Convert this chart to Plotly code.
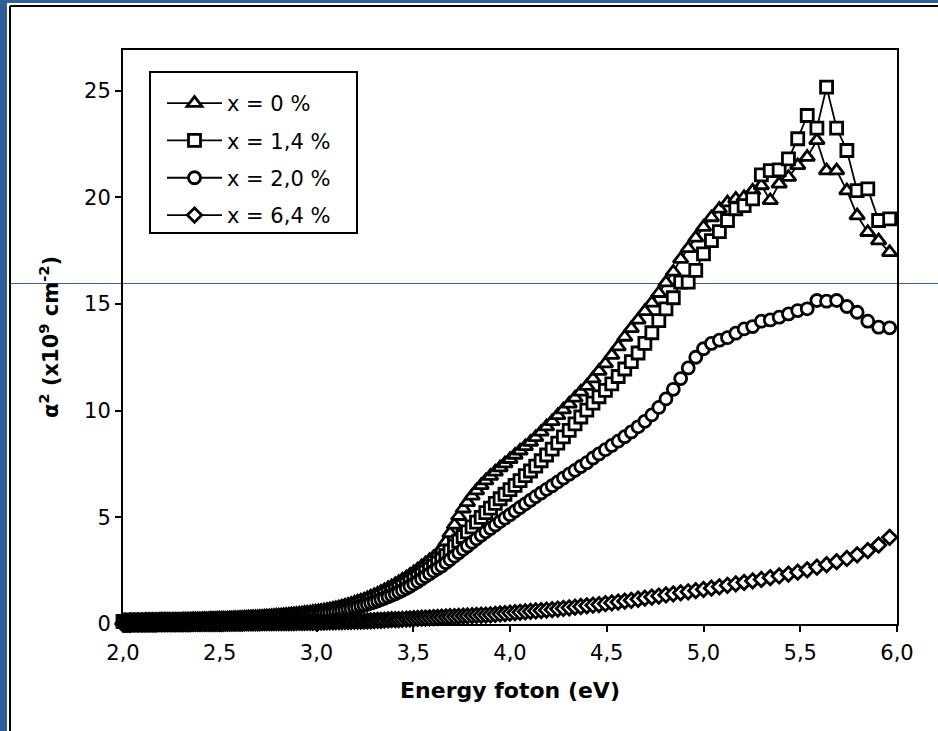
import plotly.graph_objects as go

# Photon energy grid (eV), shared by all four samples
energy_ev = [
    2.000, 2.006, 2.013, 2.020, 2.026, 2.033, 2.039, 2.046, 2.053, 2.060,
    2.067, 2.074, 2.081, 2.088, 2.095, 2.102, 2.109, 2.116, 2.123, 2.131,
    2.138, 2.145, 2.153, 2.160, 2.168, 2.175, 2.183, 2.191, 2.199, 2.206,
    2.214, 2.222, 2.230, 2.238, 2.246, 2.255, 2.263, 2.271, 2.279, 2.288,
    2.296, 2.305, 2.313, 2.322, 2.331, 2.340, 2.348, 2.357, 2.366, 2.375,
    2.385, 2.394, 2.403, 2.412, 2.422, 2.431, 2.441, 2.451, 2.460, 2.470,
    2.480, 2.490, 2.500, 2.510, 2.520, 2.531, 2.541, 2.551, 2.562, 2.573,
    2.583, 2.594, 2.605, 2.616, 2.627, 2.638, 2.650, 2.661, 2.672, 2.684,
    2.696, 2.707, 2.719, 2.731, 2.743, 2.756, 2.768, 2.780, 2.793, 2.805,
    2.818, 2.831, 2.844, 2.857, 2.870, 2.884, 2.897, 2.911, 2.925, 2.938,
    2.952, 2.967, 2.981, 2.995, 3.010, 3.024, 3.039, 3.054, 3.069, 3.085,
    3.100, 3.116, 3.131, 3.147, 3.163, 3.179, 3.196, 3.212, 3.229, 3.246,
    3.263, 3.280, 3.298, 3.316, 3.333, 3.351, 3.370, 3.388, 3.407, 3.425,
    3.444, 3.464, 3.483, 3.503, 3.523, 3.543, 3.563, 3.584, 3.605, 3.626,
    3.647, 3.669, 3.690, 3.713, 3.735, 3.758, 3.780, 3.804, 3.827, 3.851,
    3.875, 3.899, 3.924, 3.949, 3.974, 4.000, 4.026, 4.052, 4.079, 4.106,
    4.133, 4.161, 4.189, 4.218, 4.247, 4.276, 4.306, 4.336, 4.366, 4.397,
    4.429, 4.460, 4.493, 4.526, 4.559, 4.593, 4.627, 4.662, 4.697, 4.733,
    4.769, 4.806, 4.844, 4.882, 4.921, 4.960, 5.000, 5.041, 5.082, 5.124,
    5.167, 5.210, 5.254, 5.299, 5.345, 5.391, 5.439, 5.487, 5.536, 5.586,
    5.636, 5.688, 5.741, 5.794, 5.849, 5.905, 5.962,
]

# alpha^2 (x10^9 cm^-2) for each doping level
alpha2_x0 = [
    0.15, 0.15, 0.15, 0.15, 0.15, 0.15, 0.16, 0.16, 0.16, 0.16,
    0.16, 0.16, 0.16, 0.16, 0.16, 0.16, 0.16, 0.17, 0.17, 0.17,
    0.17, 0.17, 0.17, 0.17, 0.17, 0.17, 0.17, 0.18, 0.18, 0.18,
    0.18, 0.18, 0.18, 0.18, 0.18, 0.19, 0.19, 0.19, 0.19, 0.19,
    0.19, 0.19, 0.20, 0.20, 0.20, 0.20, 0.20, 0.21, 0.21, 0.21,
    0.21, 0.21, 0.21, 0.22, 0.22, 0.22, 0.22, 0.23, 0.23, 0.23,
    0.23, 0.24, 0.24, 0.24, 0.25, 0.25, 0.25, 0.26, 0.26, 0.27,
    0.27, 0.27, 0.28, 0.28, 0.29, 0.29, 0.30, 0.30, 0.31, 0.31,
    0.32, 0.33, 0.33, 0.34, 0.35, 0.35, 0.36, 0.37, 0.38, 0.39,
    0.40, 0.41, 0.42, 0.43, 0.44, 0.45, 0.47, 0.48, 0.49, 0.51,
    0.52, 0.54, 0.56, 0.57, 0.59, 0.61, 0.63, 0.66, 0.68, 0.71,
    0.74, 0.77, 0.81, 0.85, 0.89, 0.94, 0.99, 1.04, 1.09, 1.14,
    1.20, 1.27, 1.34, 1.42, 1.50, 1.58, 1.67, 1.76, 1.86, 1.96,
    2.07, 2.18, 2.30, 2.42, 2.55, 2.69, 2.83, 2.98, 3.13, 3.30,
    3.50, 3.85, 4.25, 4.65, 5.05, 5.40, 5.70, 6.00, 6.25, 6.50,
    6.72, 6.93, 7.13, 7.33, 7.52, 7.72, 7.92, 8.12, 8.32, 8.53,
    8.75, 9.00, 9.25, 9.50, 9.78, 10.05, 10.32, 10.60, 10.88, 11.15,
    11.50, 11.85, 12.20, 12.60, 13.00, 13.45, 13.85, 14.25, 14.65, 15.05,
    15.50, 16.00, 16.50, 17.10, 17.60, 18.10, 18.60, 19.05, 19.45, 19.75,
    19.92, 20.00, 20.30, 20.55, 19.85, 20.63, 20.94, 21.49, 21.88, 22.66,
    21.25, 21.25, 20.31, 19.14, 18.36, 17.97, 17.42,
]

alpha2_x14 = [
    0.12, 0.12, 0.12, 0.12, 0.12, 0.12, 0.12, 0.12, 0.13, 0.13,
    0.13, 0.13, 0.13, 0.13, 0.13, 0.13, 0.13, 0.13, 0.13, 0.14,
    0.14, 0.14, 0.14, 0.14, 0.14, 0.14, 0.14, 0.14, 0.15, 0.15,
    0.15, 0.15, 0.15, 0.15, 0.15, 0.15, 0.16, 0.16, 0.16, 0.16,
    0.16, 0.16, 0.16, 0.17, 0.17, 0.17, 0.17, 0.17, 0.18, 0.18,
    0.18, 0.18, 0.18, 0.19, 0.19, 0.19, 0.19, 0.20, 0.20, 0.20,
    0.20, 0.21, 0.21, 0.21, 0.22, 0.22, 0.22, 0.23, 0.23, 0.23,
    0.24, 0.24, 0.25, 0.25, 0.25, 0.26, 0.26, 0.27, 0.27, 0.28,
    0.28, 0.29, 0.29, 0.30, 0.31, 0.31, 0.32, 0.33, 0.33, 0.34,
    0.35, 0.36, 0.37, 0.38, 0.39, 0.40, 0.41, 0.42, 0.43, 0.45,
    0.46, 0.48, 0.49, 0.51, 0.53, 0.55, 0.57, 0.59, 0.61, 0.64,
    0.66, 0.69, 0.72, 0.75, 0.79, 0.82, 0.86, 0.90, 0.95, 0.99,
    1.04, 1.10, 1.15, 1.21, 1.28, 1.35, 1.42, 1.50, 1.58, 1.67,
    1.76, 1.86, 1.96, 2.07, 2.18, 2.30, 2.43, 2.56, 2.70, 2.85,
    3.00, 3.20, 3.42, 3.65, 3.88, 4.10, 4.32, 4.55, 4.77, 5.00,
    5.22, 5.43, 5.65, 5.87, 6.08, 6.30, 6.50, 6.72, 6.95, 7.17,
    7.40, 7.65, 7.92, 8.20, 8.48, 8.77, 9.07, 9.38, 9.70, 10.02,
    10.35, 10.65, 10.95, 11.25, 11.60, 11.95, 12.30, 12.70, 13.15, 13.65,
    14.22, 14.77, 15.29, 16.02, 16.02, 16.57, 17.35, 17.97, 18.39, 18.91,
    19.46, 19.61, 19.92, 21.05, 21.25, 21.28, 21.80, 22.74, 23.83, 23.24,
    25.16, 23.24, 22.19, 20.31, 20.39, 18.91, 18.99,
]

alpha2_x20 = [
    0.08, 0.08, 0.08, 0.08, 0.08, 0.08, 0.08, 0.08, 0.08, 0.09,
    0.09, 0.09, 0.09, 0.09, 0.09, 0.09, 0.09, 0.09, 0.09, 0.09,
    0.09, 0.10, 0.10, 0.10, 0.10, 0.10, 0.10, 0.10, 0.10, 0.10,
    0.10, 0.10, 0.11, 0.11, 0.11, 0.11, 0.11, 0.11, 0.11, 0.11,
    0.12, 0.12, 0.12, 0.12, 0.12, 0.12, 0.12, 0.13, 0.13, 0.13,
    0.13, 0.13, 0.13, 0.14, 0.14, 0.14, 0.14, 0.14, 0.15, 0.15,
    0.15, 0.15, 0.16, 0.16, 0.16, 0.16, 0.17, 0.17, 0.17, 0.18,
    0.18, 0.18, 0.19, 0.19, 0.20, 0.20, 0.20, 0.21, 0.21, 0.22,
    0.22, 0.23, 0.23, 0.24, 0.25, 0.25, 0.26, 0.27, 0.27, 0.28,
    0.29, 0.30, 0.31, 0.32, 0.33, 0.34, 0.35, 0.36, 0.37, 0.38,
    0.39, 0.41, 0.42, 0.44, 0.45, 0.47, 0.49, 0.51, 0.53, 0.55,
    0.58, 0.60, 0.63, 0.66, 0.69, 0.72, 0.76, 0.80, 0.84, 0.88,
    0.93, 0.98, 1.03, 1.09, 1.15, 1.21, 1.28, 1.35, 1.42, 1.50,
    1.58, 1.67, 1.77, 1.88, 1.99, 2.11, 2.23, 2.35, 2.48, 2.60,
    2.72, 2.87, 3.02, 3.18, 3.34, 3.50, 3.66, 3.83, 3.99, 4.16,
    4.32, 4.48, 4.64, 4.80, 4.96, 5.12, 5.29, 5.46, 5.63, 5.80,
    5.97, 6.14, 6.31, 6.48, 6.66, 6.84, 7.02, 7.20, 7.38, 7.56,
    7.78, 7.97, 8.17, 8.37, 8.57, 8.78, 9.00, 9.24, 9.50, 9.80,
    10.15, 10.55, 11.00, 11.50, 12.00, 12.50, 12.90, 13.15, 13.30, 13.42,
    13.63, 13.83, 13.94, 14.19, 14.25, 14.38, 14.53, 14.69, 14.77, 15.16,
    15.13, 15.16, 14.88, 14.61, 14.19, 13.91, 13.88,
]

alpha2_x64 = [
    0.00, 0.00, 0.00, 0.00, 0.00, 0.00, 0.00, 0.01, 0.01, 0.01,
    0.01, 0.01, 0.01, 0.01, 0.01, 0.01, 0.01, 0.01, 0.01, 0.01,
    0.01, 0.01, 0.01, 0.01, 0.01, 0.01, 0.02, 0.02, 0.02, 0.02,
    0.02, 0.02, 0.02, 0.02, 0.02, 0.02, 0.02, 0.02, 0.02, 0.02,
    0.02, 0.02, 0.02, 0.02, 0.02, 0.02, 0.02, 0.03, 0.03, 0.03,
    0.03, 0.03, 0.03, 0.03, 0.03, 0.03, 0.03, 0.03, 0.03, 0.03,
    0.03, 0.03, 0.03, 0.03, 0.03, 0.04, 0.04, 0.04, 0.04, 0.04,
    0.04, 0.04, 0.04, 0.04, 0.05, 0.05, 0.05, 0.05, 0.05, 0.05,
    0.05, 0.05, 0.06, 0.06, 0.06, 0.06, 0.06, 0.06, 0.06, 0.07,
    0.07, 0.07, 0.07, 0.07, 0.07, 0.07, 0.08, 0.08, 0.08, 0.08,
    0.08, 0.08, 0.08, 0.09, 0.09, 0.09, 0.09, 0.10, 0.10, 0.10,
    0.11, 0.11, 0.11, 0.12, 0.12, 0.12, 0.13, 0.13, 0.14, 0.14,
    0.15, 0.15, 0.16, 0.17, 0.17, 0.18, 0.19, 0.20, 0.20, 0.21,
    0.22, 0.23, 0.24, 0.25, 0.26, 0.27, 0.28, 0.29, 0.30, 0.31,
    0.32, 0.33, 0.34, 0.35, 0.36, 0.37, 0.38, 0.39, 0.40, 0.41,
    0.42, 0.43, 0.45, 0.47, 0.49, 0.51, 0.53, 0.55, 0.57, 0.59,
    0.61, 0.63, 0.65, 0.67, 0.70, 0.73, 0.76, 0.79, 0.82, 0.85,
    0.88, 0.91, 0.95, 0.99, 1.03, 1.07, 1.11, 1.16, 1.21, 1.26,
    1.31, 1.36, 1.41, 1.46, 1.51, 1.56, 1.62, 1.68, 1.74, 1.81,
    1.88, 1.95, 2.02, 2.09, 2.17, 2.25, 2.34, 2.43, 2.54, 2.66,
    2.78, 2.92, 3.07, 3.24, 3.44, 3.70, 4.06,
]

series_labels = ["x = 0 %", "x = 1,4 %", "x = 2,0 %", "x = 6,4 %"]
series_values = [alpha2_x0, alpha2_x14, alpha2_x20, alpha2_x64]
series_symbols = ["triangle-up", "square", "circle", "diamond"]
series_sizes = [13, 12, 12, 11]

for vals in series_values:
    assert len(vals) == len(energy_ev), len(vals)

FONT = "DejaVu Sans, Verdana, sans-serif"

fig = go.Figure()
for i, (name, vals, sym, size) in enumerate(
    zip(series_labels, series_values, series_symbols, series_sizes)
):
    fig.add_trace(
        go.Scatter(
            x=energy_ev,
            y=vals,
            name=name,
            legendgroup=f"g{i}",
            mode="lines+markers",
            line=dict(color="black", width=1.8),
            marker=dict(
                symbol=sym,
                size=size,
                color="white",
                line=dict(color="black", width=2.8),
            ),
            cliponaxis=False,
        )
    )

# page geometry (pixels) and helpers to place decorations in paper units
W, H = 938, 731
L, R, T, B = 123, 41, 50, 107
pw, ph = W - L - R, H - T - B


def px_x(px):
    return (px - L) / pw


def px_y(py):
    return (H - B - py) / ph


blue = "#2F5E98"
shapes = [
    # slide frame
    dict(type="rect", xref="paper", yref="paper",
         x0=px_x(0), x1=px_x(7), y0=px_y(H), y1=px_y(0),
         fillcolor=blue, line=dict(width=0), layer="above"),
    dict(type="rect", xref="paper", yref="paper",
         x0=px_x(0), x1=px_x(W), y0=px_y(3), y1=px_y(0),
         fillcolor=blue, line=dict(width=0), layer="above"),
    dict(type="line", xref="paper", yref="paper",
         x0=px_x(10), x1=px_x(10), y0=px_y(6), y1=px_y(H),
         line=dict(color="black", width=2), layer="above"),
    dict(type="line", xref="paper", yref="paper",
         x0=px_x(10), x1=px_x(W), y0=px_y(6), y1=px_y(6),
         line=dict(color="black", width=2), layer="above"),
    # thin rule across the slide
    dict(type="line", xref="paper", yref="paper",
         x0=px_x(10), x1=px_x(W), y0=px_y(283.5), y1=px_y(283.5),
         line=dict(color="#3760A8", width=1), layer="below"),
    # legend frame
    dict(type="rect", xref="paper", yref="paper",
         x0=px_x(150), x1=px_x(357), y0=px_y(233), y1=px_y(72),
         fillcolor="white", line=dict(color="black", width=2), layer="above"),
]

axis_common = dict(
    showgrid=False,
    zeroline=False,
    showline=True,
    linecolor="black",
    linewidth=2,
    mirror=True,
    ticks="outside",
    ticklen=6,
    tickwidth=2,
    tickcolor="black",
    tickfont=dict(family=FONT, size=21, color="black"),
)

fig.update_layout(
    width=W,
    height=H,
    autosize=False,
    margin=dict(l=L, r=R, t=T, b=B),
    paper_bgcolor="white",
    plot_bgcolor="rgba(0,0,0,0)",
    separators=", ",
    font=dict(family=FONT, color="black"),
    shapes=shapes,
    xaxis=dict(
        range=[2, 6],
        dtick=0.5,
        tick0=2,
        tickformat=".1f",
        ticklabelstandoff=3,
        title=dict(text="<b>Energy foton (eV)</b>",
                   font=dict(family=FONT, size=22, color="black"),
                   standoff=18),
        **axis_common,
    ),
    yaxis=dict(
        range=[0, 26.9],
        dtick=5,
        tick0=0,
        title=dict(text="<b>α<sup>2</sup> (x10<sup>9</sup> cm<sup>-2</sup>)</b>",
                   font=dict(family=FONT, size=21, color="black"),
                   standoff=20),
        **axis_common,
    ),
    legend=dict(
        x=px_x(162),
        y=px_y(83),
        xanchor="left",
        yanchor="top",
        bgcolor="rgba(0,0,0,0)",
        borderwidth=0,
        font=dict(family=FONT, size=21, color="black"),
        traceorder="grouped",
        tracegroupgap=7,
        itemwidth=55,
    ),
    showlegend=True,
)

fig.write_html("out.html")
